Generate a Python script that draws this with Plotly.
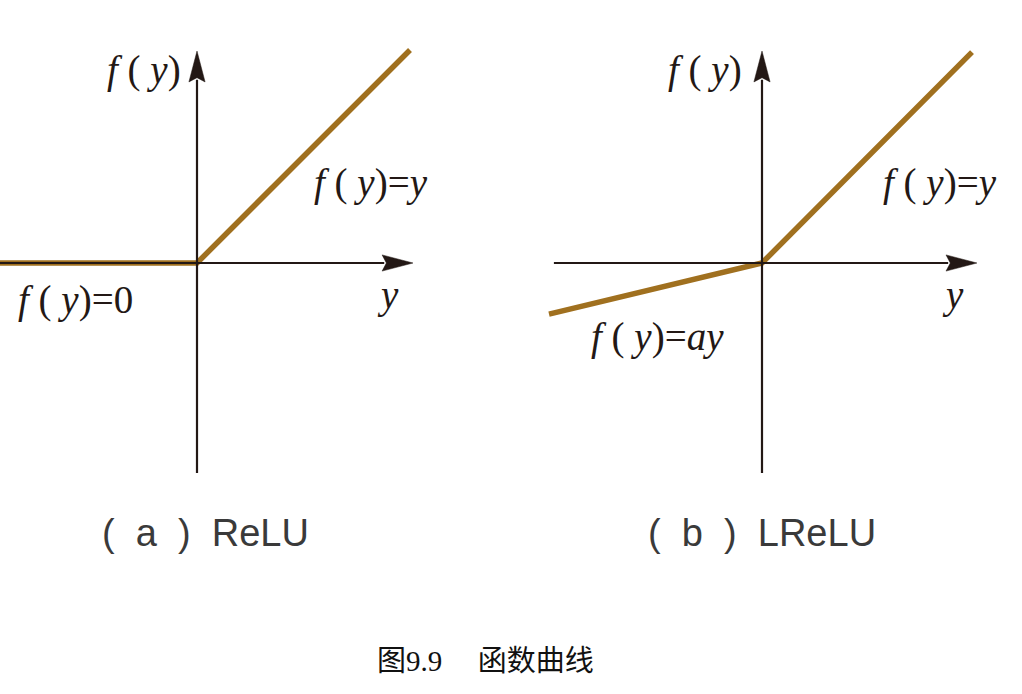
import plotly.graph_objects as go

# ---- data (function values, in axis units) ----
relu_x = [-0.925, 0.0, 1.0]
relu_y = [0.0, 0.0, 1.0]
lrelu_x = [-1.0, 0.0, 0.986]
lrelu_y = [-0.24, 0.0, 0.99]

panel_titles = ["(  a  )  ReLU", "(  b  )  LReLU"]
fig_caption = "图<span style='font-family:Liberation Serif'>9.9</span>　 函数曲线"

W, H = 1022, 694
S = 213.0  # pixels per unit
CURVE = "#A0701F"
AX = "#231815"

fig = go.Figure()
fig.add_trace(go.Scatter(x=relu_x, y=relu_y, mode="lines",
                         line=dict(color=CURVE, width=5.5), xaxis="x", yaxis="y",
                         hoverinfo="skip", showlegend=False))
fig.add_trace(go.Scatter(x=lrelu_x, y=lrelu_y, mode="lines",
                         line=dict(color=CURVE, width=5.5), xaxis="x2", yaxis="y2",
                         hoverinfo="skip", showlegend=False))

ox = [197, 762]
oy = 263
yr = [(oy - H) / S, oy / S]

def ax(domain, origin):
    return dict(domain=domain, range=[(domain[0] * W - origin) / S, (domain[1] * W - origin) / S],
                visible=False, fixedrange=True)

def yax(anchor):
    return dict(domain=[0, 1], range=yr, visible=False, fixedrange=True, anchor=anchor)

shapes = []
annotations = []
axes_def = [
    ("x", "y", -0.93, 1.014, -0.986, 0.995),
    ("x2", "y2", -0.977, 1.009, -0.986, 0.995),
]
L = 0.145
hw = 0.038
for xr, yrf, x0, xt, y0, yt in axes_def:
    shapes.append(dict(type="line", xref=xr, yref=yrf, x0=x0, y0=0, x1=xt - L + 0.01, y1=0,
                       line=dict(color=AX, width=2.2)))
    shapes.append(dict(type="line", xref=xr, yref=yrf, x0=0, y0=y0, x1=0, y1=yt - L + 0.01,
                       line=dict(color=AX, width=2.2)))
    shapes.append(dict(type="path", xref=xr, yref=yrf,
                       path=f"M {xt},0 L {xt-L},{hw} L {xt-L+0.02},0 L {xt-L},{-hw} Z",
                       fillcolor=AX, line=dict(color=AX, width=0.5)))
    shapes.append(dict(type="path", xref=xr, yref=yrf,
                       path=f"M 0,{yt} L {-hw},{yt-L} L 0,{yt-L+0.02} L {hw},{yt-L} Z",
                       fillcolor=AX, line=dict(color=AX, width=0.5)))

SERIF = "Liberation Serif"
fy = "<i>f</i> ( <i>y</i>)"

def label(xr, yrf, x, y, text, size=39):
    annotations.append(dict(xref=xr, yref=yrf, x=x, y=y, text=text, showarrow=False,
                            xanchor="center", yanchor="middle",
                            font=dict(family=SERIF, size=size, color="#231815")))

# panel a labels
label("x", "y", (144 - 197) / S, (263 - 70) / S, fy)
label("x", "y", (371 - 197) / S, (263 - 183) / S, fy + "=<i>y</i>")
label("x", "y", (75 - 197) / S, (263 - 300) / S, fy + "=0")
label("x", "y", (388 - 197) / S, (263 - 295) / S, "<i>y</i>")
# panel b labels
label("x2", "y2", (705 - 762) / S, (263 - 70) / S, fy)
label("x2", "y2", (940 - 762) / S, (263 - 183) / S, fy + "=<i>y</i>")
label("x2", "y2", (657 - 762) / S, (263 - 337) / S, fy + "=<i>ay</i>")
label("x2", "y2", (953 - 762) / S, (263 - 295) / S, "<i>y</i>")

for i, t in enumerate(panel_titles):
    cx = [205, 762][i]
    annotations.append(dict(xref="paper", yref="paper", x=cx / W, y=1 - 533 / H, text=t,
                            showarrow=False, xanchor="center", yanchor="middle",
                            font=dict(family="Liberation Sans", size=38, color="#3a3a3a")))

annotations.append(dict(xref="paper", yref="paper", x=485 / W, y=1 - 658 / H, text=fig_caption,
                        showarrow=False, xanchor="center", yanchor="middle",
                        font=dict(family="Noto Sans CJK SC", size=29, color="#111111")))

fig.update_layout(
    width=W, height=H, margin=dict(l=0, r=0, t=0, b=0),
    paper_bgcolor="white", plot_bgcolor="white",
    xaxis=ax([0, 0.5], ox[0]), yaxis=yax("x"),
    xaxis2=ax([0.5, 1.0], ox[1]), yaxis2=yax("x2"),
    shapes=shapes, annotations=annotations, showlegend=False,
)
fig.write_html("out.html", config={"displayModeBar": False},
               post_script="document.body.style.margin='0';document.body.style.overflow='hidden';")
